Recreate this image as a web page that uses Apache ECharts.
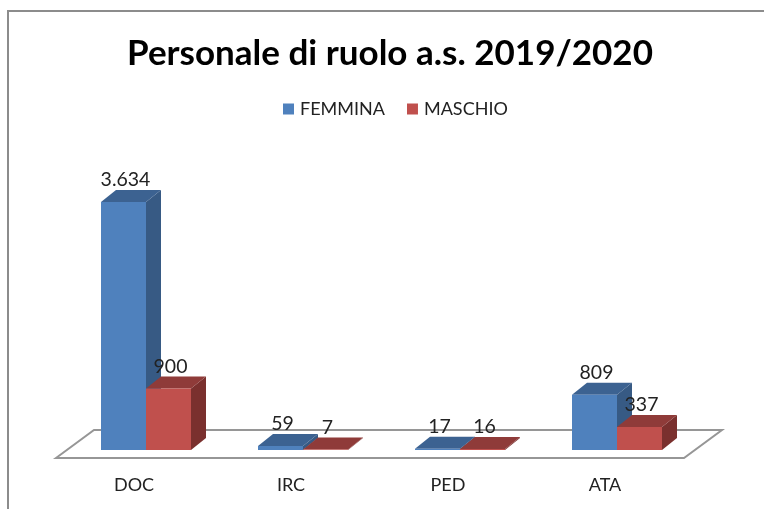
<!DOCTYPE html>
<html>
<head>
<meta charset="utf-8">
<style>
  html, body { margin: 0; background: #fff; }
  #chart { width: 764px; height: 509px; }
</style>
<script src="https://cdn.jsdelivr.net/npm/echarts@6/dist/echarts.min.js"></script>
</head>
<body>
<div id="chart"></div>
<script>
var categories = ['DOC', 'IRC', 'PED', 'ATA'];
var femmina = [3634, 59, 17, 809];
var maschio = [900, 7, 16, 337];

var barW = 45, depthX = 15, depthY = 12;
var font = 'Lato';

// format 3634 -> 3.634
function fmt(v) {
  return String(v).replace(/\B(?=(\d{3})+$)/g, '.');
}

// fake 3d bar: front, side and top faces plus the value label
function bar3d(side, front, top, dark) {
  return function (params, api) {
    var base = api.coord([api.value(0), 0]);
    var tip = api.coord([api.value(0), api.value(1)]);
    var x = side < 0 ? base[0] - barW : base[0];
    var y0 = base[1], y1 = tip[1];
    return {
      type: 'group',
      children: [
        { type: 'polygon', shape: { points: [[x + barW, y0], [x + barW + depthX, y0 - depthY], [x + barW + depthX, y1 - depthY], [x + barW, y1]] }, style: { fill: dark } },
        { type: 'polygon', shape: { points: [[x, y1], [x + depthX, y1 - depthY], [x + barW + depthX, y1 - depthY], [x + barW, y1]] }, style: { fill: top } },
        { type: 'rect', shape: { x: x, y: y1, width: barW, height: y0 - y1 }, style: { fill: front } },
        { type: 'text', z2: 50, style: { x: x + barW / 2 + 2, y: y1 - 22, text: fmt(api.value(1)), fill: '#222', font: '19.5px ' + font, align: 'center', verticalAlign: 'middle' } }
      ]
    };
  };
}

// floor plane under the bars
function floor(params, api) {
  var g = params.coordSys;
  var yb = g.y + g.height;
  return {
    type: 'polygon',
    silent: true,
    shape: { points: [[g.x - 11.5, yb + 8], [g.x + 26.5, yb - 20], [g.x + g.width + 26.5, yb - 20], [g.x + g.width - 11.5, yb + 8]] },
    style: { fill: '#fff', stroke: '#969696', lineWidth: 2 }
  };
}

var chart = echarts.init(document.getElementById('chart'));
chart.setOption({
  animation: false,
  backgroundColor: '#fff',
  title: {
    text: 'Personale di ruolo a.s. 2019/2020',
    left: 385,
    top: 31,
    textAlign: 'center',
    textStyle: { fontFamily: font, fontSize: 35, fontWeight: 'bold', color: '#000' }
  },
  legend: {
    data: ['FEMMINA', 'MASCHIO'],
    left: 278,
    top: 95,
    icon: 'rect',
    itemWidth: 11,
    itemHeight: 11,
    itemGap: 22,
    textStyle: { fontFamily: font, fontSize: 18, color: '#222', padding: [0, 0, 0, 1] }
  },
  grid: { left: 67.5, width: 628, top: 177, height: 273 },
  xAxis: {
    type: 'category',
    data: categories,
    axisLine: { show: false },
    axisTick: { show: false },
    axisLabel: { margin: 26, padding: [0, 24, 0, 0], fontFamily: font, fontSize: 18, color: '#222' }
  },
  yAxis: { type: 'value', min: 0, max: 4000, show: false, splitLine: { show: false } },
  graphic: [
    { type: 'polyline', silent: true, shape: { points: [[8, 509], [8, 11], [764, 11]] }, style: { fill: null, stroke: '#8c8c8c', lineWidth: 2 } }
  ],
  series: [
    { type: 'custom', name: 'floor', renderItem: floor, data: [0], z: 1, silent: true },
    {
      type: 'custom', name: 'FEMMINA', z: 2,
      itemStyle: { color: '#4F81BD' },
      encode: { x: 0, y: 1 },
      renderItem: bar3d(-1, '#4F81BD', '#3C6291', '#375A84'),
      data: femmina.map(function (v, i) { return [i, v]; })
    },
    {
      type: 'custom', name: 'MASCHIO', z: 3,
      itemStyle: { color: '#C0504D' },
      encode: { x: 0, y: 1 },
      renderItem: bar3d(1, '#C0504D', '#8F3B39', '#7A302E'),
      data: maschio.map(function (v, i) { return [i, v]; })
    }
  ]
});
</script>
</body>
</html>
